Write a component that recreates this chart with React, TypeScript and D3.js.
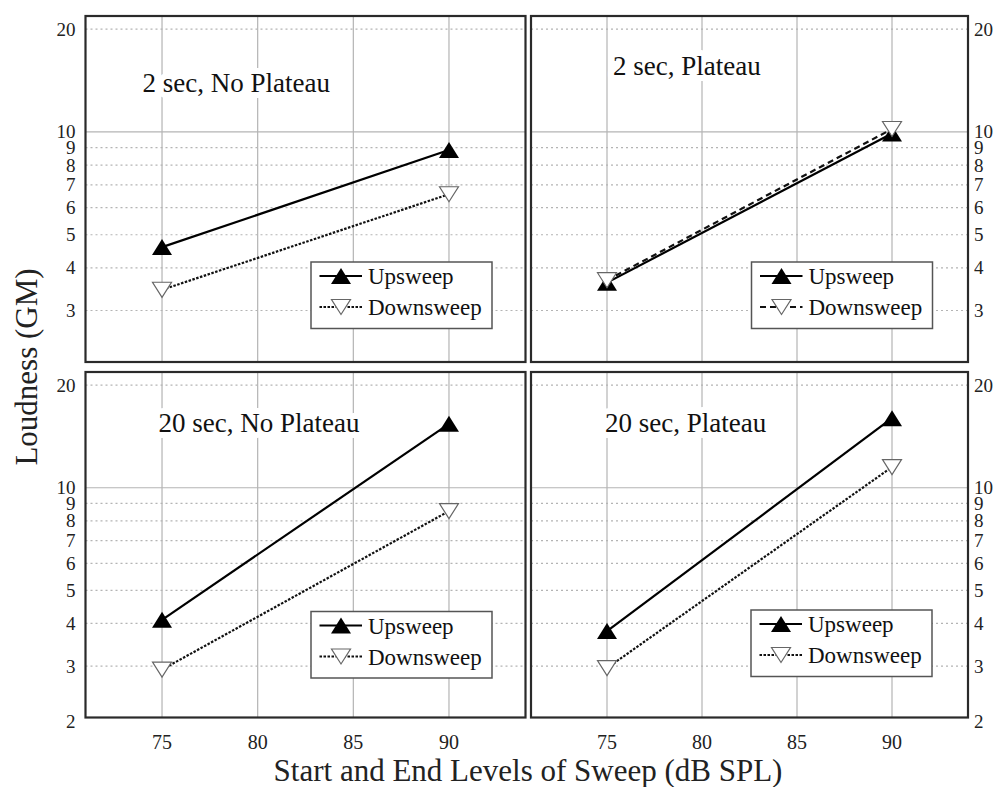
import React from 'react';
import * as d3 from 'd3';

// sweep levels (dB SPL) and loudness (GM)
const levels = [75, 90];
const up2NoPlateau = [4.6, 8.85];
const down2NoPlateau = [3.45, 6.57];
const up2Plateau = [3.62, 9.9];
const down2Plateau = [3.68, 10.2];
const up20NoPlateau = [4.1, 15.4];
const down20NoPlateau = [2.93, 8.54];
const up20Plateau = [3.8, 16.0];
const down20Plateau = [2.96, 11.5];

const xTicks = [75, 80, 85, 90];
const yTicks = [20, 10, 9, 8, 7, 6, 5, 4, 3];
const yMajor = [10];

const W = 995;
const H = 787;
const FONT = '"Liberation Serif", "Times New Roman", serif';

const cols = [{ x0: 85.5, x1: 525.5 }, { x0: 531, x1: 968 }];
const rows = [{ y0: 16, y1: 362 }, { y0: 372, y1: 717.5 }];

const panels = [
  { title: '2 sec, No Plateau', up: up2NoPlateau, down: down2NoPlateau, col: 0, row: 0, dash: '2.5,1.5', tx: 57, ty: 76, lx: 225.5, ly: 246 },
  { title: '2 sec, Plateau', up: up2Plateau, down: down2Plateau, col: 1, row: 0, dash: '6,4', tx: 82, ty: 59, lx: 220.5, ly: 246 },
  { title: '20 sec, No Plateau', up: up20NoPlateau, down: down20NoPlateau, col: 0, row: 1, dash: '2.5,1.5', tx: 73, ty: 60, lx: 225.5, ly: 239.5 },
  { title: '20 sec, Plateau', up: up20Plateau, down: down20Plateau, col: 1, row: 1, dash: '2.5,1.5', tx: 74, ty: 60, lx: 220, ly: 238 },
];

const upTri = 'M-10,8L10,8L0,-8Z';
const downTri = 'M-9.5,-7.5L9.5,-7.5L0,7.5Z';

const Panel = ({ p }: { p: any }) => {
  const c = cols[p.col];
  const r = rows[p.row];
  const x = d3.scaleLinear().domain([71, 94]).range([c.x0, c.x1]);
  const y = d3.scaleLog().domain([2.12, 21.85]).range([r.y1, r.y0]);
  const line = d3.line<number>().x((_, i) => x(levels[i])).y(d => y(d));
  const isLeft = p.col === 0;
  const isBottom = p.row === 1;
  const lx = c.x0 + p.lx;
  const ly = r.y0 + p.ly;
  const labels = isBottom ? [...yTicks, 2] : yTicks;

  return (
    <g>
      <rect x={c.x0} y={r.y0} width={c.x1 - c.x0} height={r.y1 - r.y0} fill="#fff" />
      {xTicks.map(t => (
        <line key={'vx' + t} x1={x(t)} x2={x(t)} y1={r.y0} y2={r.y1} stroke="#b4b4b4" strokeWidth={1.2} />
      ))}
      {yTicks.map(t => (
        <line key={'hy' + t} x1={c.x0} x2={c.x1} y1={y(t)} y2={y(t)} stroke="#b4b4b4"
          strokeWidth={1.2} strokeDasharray={yMajor.includes(t) ? undefined : '2,3'} />
      ))}
      <text x={c.x0 + p.tx} y={r.y0 + p.ty} fontFamily={FONT} fontSize={27} fill="#111"
        stroke="#fff" strokeWidth={12} strokeLinejoin="round" paintOrder="stroke">{p.title}</text>

      <path d={line(p.down) || ''} fill="none" stroke="#111" strokeWidth={2.2} strokeDasharray={p.dash} />
      <path d={line(p.up) || ''} fill="none" stroke="#000" strokeWidth={2.2} />
      {p.up.map((v: number, i: number) => (
        <path key={'u' + i} d={upTri} transform={`translate(${x(levels[i])},${y(v)})`} fill="#000" />
      ))}
      {p.down.map((v: number, i: number) => (
        <path key={'d' + i} d={downTri} transform={`translate(${x(levels[i])},${y(v)})`} fill="#fff" stroke="#666" strokeWidth={1.2} />
      ))}

      {/* legend */}
      <rect x={lx} y={ly} width={181} height={66.5} fill="#fff" stroke="#555" strokeWidth={1.5} />
      <line x1={lx + 8.5} x2={lx + 51} y1={ly + 14} y2={ly + 14} stroke="#000" strokeWidth={2.2} />
      <path d={upTri} transform={`translate(${lx + 30},${ly + 14})`} fill="#000" />
      <text x={lx + 57} y={ly + 22} fontFamily={FONT} fontSize={23} fill="#111">Upsweep</text>
      <line x1={lx + 8.5} x2={lx + 51} y1={ly + 45} y2={ly + 45} stroke="#111" strokeWidth={2.2} strokeDasharray={p.dash} />
      <path d={downTri} transform={`translate(${lx + 30},${ly + 45})`} fill="#fff" stroke="#666" strokeWidth={1.2} />
      <text x={lx + 57} y={ly + 53} fontFamily={FONT} fontSize={23} fill="#111">Downsweep</text>

      <rect x={c.x0} y={r.y0} width={c.x1 - c.x0} height={r.y1 - r.y0} fill="none" stroke="#2a2a2a" strokeWidth={2.2} />

      {labels.map(t => (
        <text key={'yl' + t} x={isLeft ? c.x0 - 10 : c.x1 + 6} y={Math.min(y(t), r.y1 + 4)}
          textAnchor={isLeft ? 'end' : 'start'} dominantBaseline="central"
          fontFamily={FONT} fontSize={19} fill="#222">{t}</text>
      ))}
      {isBottom && xTicks.map(t => (
        <text key={'xl' + t} x={x(t)} y={r.y1 + 31} textAnchor="middle"
          fontFamily={FONT} fontSize={20} fill="#222">{t}</text>
      ))}
    </g>
  );
};

export default function App() {
  return (
    <svg width={W} height={H} style={{ position: 'absolute', left: 0, top: 0, background: '#fff' }}>
      <rect width={W} height={H} fill="#fff" />
      {panels.map(p => <Panel key={p.title} p={p} />)}
      <text transform="translate(37,367) rotate(-90)" textAnchor="middle" fontFamily={FONT}
        fontSize={31} fill="#222">Loudness (GM)</text>
      <text x={528} y={781} textAnchor="middle" fontFamily={FONT} fontSize={31} fill="#222">
        Start and End Levels of Sweep (dB SPL)
      </text>
    </svg>
  );
}
